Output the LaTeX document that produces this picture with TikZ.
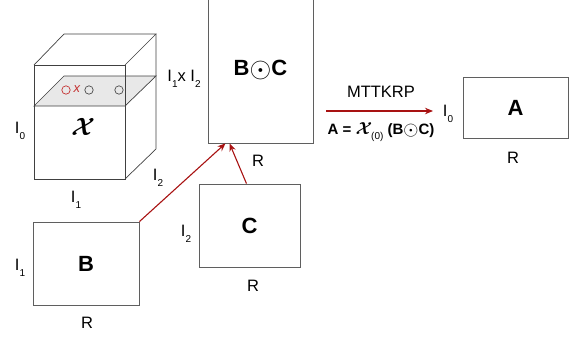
\documentclass[tikz,border=0pt]{standalone}
\usepackage{amsmath,bm}
\usepackage{fontspec}
\setmainfont{Liberation Sans}
\definecolor{arrred}{RGB}{168,18,18}
\definecolor{boxgray}{RGB}{95,95,95}
\definecolor{slicegray}{RGB}{232,232,232}
\definecolor{dotred}{RGB}{196,48,48}
\usetikzlibrary{arrows.meta,positioning}
\newcommand{\lsub}[1]{\raisebox{-0.7ex}{\fontsize{10}{11}\selectfont #1}}
\newcommand{\tensx}{\ensuremath{\boldsymbol{\mathcal{X}}}}
\newcommand{\krp}{\raisebox{-0.15ex}{\scalebox{1.35}{$\odot$}}}

\begin{document}
\begin{tikzpicture}[x=1pt,y=-1pt,>={Stealth[length=8pt,width=6.5pt]},
    mat/.style={draw=boxgray,line width=0.8pt,inner sep=0pt,
                font=\fontsize{22}{26}\selectfont\bfseries},
    dim/.style={font=\fontsize{16.5}{19}\selectfont,inner sep=1pt},
    cubeline/.style={draw=black!75,line width=0.7pt},
    flow/.style={->,arrred,line width=1.1pt}]
  \useasboundingbox (0,0) rectangle (574,338);

  % tensor cube with one slice
  \filldraw[cubeline,fill=slicegray] (34,106) -- (64,76) -- (156,76) -- (125,106) -- cycle;
  \draw[cubeline] (34,65) rectangle (125,179);
  \draw[cubeline] (34,65) -- (64,34) -- (156,34) -- (125,65);
  \draw[cubeline] (125,179) -- (156,149) -- (156,34);
  \draw[dotred,line width=0.7pt] (66,90) circle (4.2);
  \node[text=dotred,font=\fontsize{13}{13}\selectfont\itshape,inner sep=0pt] (xmark) at (77,89) {x};
  \draw[black!70,line width=0.7pt] (89,90) circle (4.2);
  \draw[black!70,line width=0.7pt] (119,90) circle (4.2);
  \node[font=\fontsize{29}{32}\selectfont] (xlabel) at (83,127) {\tensx};
  \node[dim] (cube-i0) at (20,131) {I\lsub{0}};
  \node[dim] (cube-i1) at (76,200) {I\lsub{1}};
  \node[dim] (cube-i2) at (158,178) {I\lsub{2}};

  % factor matrices
  \node[mat,minimum width=105pt,minimum height=146pt] (bc) at (260.5,70) {B\krp C};
  \node[dim] (bc-rows) at (184,79) {I\lsub{1}x I\lsub{2}};
  \node[dim] (bc-cols) at (258,161) {R};

  \node[mat,minimum width=106pt,minimum height=83pt] (bmat) at (86,263.5) {B};
  \node[dim] (b-rows) at (20,268) {I\lsub{1}};
  \node[dim] (b-cols) at (87,323) {R};

  \node[mat,minimum width=101pt,minimum height=83pt] (cmat) at (249.5,225.5) {C};
  \node[dim] (c-rows) at (186,234) {I\lsub{2}};
  \node[dim] (c-cols) at (253,286) {R};

  \node[mat,minimum width=105pt,minimum height=61pt] (amat) at (515.5,107.5) {A};
  \node[dim] (a-rows) at (448,114) {I\lsub{0}};
  \node[dim] (a-cols) at (513,158) {R};

  % Khatri-Rao product and MTTKRP
  \draw[flow] (bmat.north east) -- ([xshift=-35pt]bc.south);
  \draw[flow] ([xshift=-3pt]cmat.north) -- ([xshift=-31pt]bc.south);
  \coordinate (mt-start) at (326,111);
  \coordinate (mt-end) at (433,111);
  \draw[flow] (mt-start) -- (mt-end);
  \node[dim] (mt-name) at (381,92) {MTTKRP};
  \node[dim,font=\fontsize{15}{18}\selectfont] (mt-eq) at (381,132)
       {\textbf{A = }{\fontsize{18}{18}\selectfont\tensx}\hspace{-1pt}\lsub{(0)} \textbf{(B\krp C)}};
\end{tikzpicture}
\end{document}
